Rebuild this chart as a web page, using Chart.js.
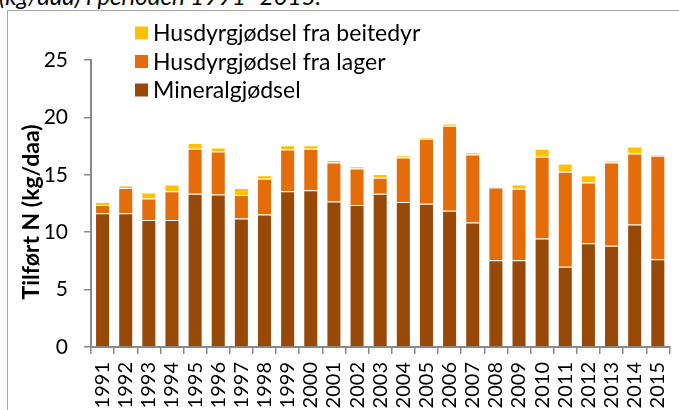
<!DOCTYPE html>
<html>
<head>
<meta charset="utf-8">
<script src="https://cdn.jsdelivr.net/npm/chart.js@4/dist/chart.umd.min.js"></script>
<style>
  html, body { margin: 0; padding: 0; background: #fff; overflow: hidden; width: 679px; height: 410px; }
  #caption { position: absolute; left: -1px; top: -16px; font-family: Lato, sans-serif; font-style: italic; font-size: 24px; line-height: 24px; color: #000; white-space: nowrap; }
  #frame { position: absolute; left: 7px; top: 10px; width: 700px; height: 420px; border: 1px solid #a9a9a9; }
  #wrap { position: absolute; left: 0; top: 0; }
</style>
</head>
<body>
<div id="caption">(kg/daa) i perioden 1991–2015.</div>
<div id="frame"></div>
<div id="wrap"><canvas id="chartN" width="690" height="440"></canvas></div>
<script>
// Tilført nitrogen per år, kg/daa
var years = ['1991', '1992', '1993', '1994', '1995', '1996', '1997', '1998', '1999', '2000',
             '2001', '2002', '2003', '2004', '2005', '2006', '2007', '2008', '2009', '2010',
             '2011', '2012', '2013', '2014', '2015'];

var mineral = [11.66, 11.66, 11.07, 11.07, 13.34, 13.29, 11.19, 11.54, 13.57, 13.66,
               12.67, 12.38, 13.34, 12.64, 12.47, 11.86, 10.85, 7.56, 7.56, 9.45,
               6.98, 9.04, 8.81, 10.67, 7.65];

var lager = [0.72, 2.20, 1.87, 2.50, 3.93, 3.74, 2.06, 3.11, 3.64, 3.61,
             3.40, 3.17, 1.40, 3.87, 5.67, 7.41, 5.92, 6.34, 6.22, 7.12,
             8.28, 5.29, 7.27, 6.19, 9.00];

var beite = [0.26, 0.21, 0.52, 0.59, 0.49, 0.35, 0.59, 0.32, 0.37, 0.31,
             0.21, 0.20, 0.32, 0.20, 0.14, 0.20, 0.20, 0.08, 0.38, 0.70,
             0.73, 0.64, 0.17, 0.61, 0.12];

var yTicks = [0, 5, 10, 15, 20, 25];
var yTitle = 'Tilført N (kg/daa)';

var axisGrey = '#898989';
var font = 'Lato, "Open Sans", sans-serif';

// legend inside the plot and axis title, placed like the Excel original
var excelBits = {
    id: 'excelBits',
    afterDraw: function (chart) {
        var ctx = chart.ctx;
        var sets = chart.data.datasets.slice().reverse();
        ctx.save();
        ctx.font = '23px ' + font;
        ctx.textBaseline = 'middle';
        ctx.textAlign = 'left';
        sets.forEach(function (ds, i) {
            var y = 33 + i * 28.5;
            ctx.fillStyle = ds.backgroundColor;
            ctx.fillRect(135, y - 6.5, 13, 13);
            ctx.fillStyle = '#000';
            ctx.fillText(ds.label, 153, y + 1);
        });

        ctx.translate(32, 212);
        ctx.rotate(-Math.PI / 2);
        ctx.textAlign = 'center';
        ctx.font = 'bold 23px ' + font;
        ctx.fillText(yTitle, 0, 0);
        ctx.restore();
    }
};

var chartN = new Chart(document.getElementById('chartN'), {
    type: 'bar',
    data: {
        labels: years,
        datasets: [{
            label: 'Mineralgjødsel',
            data: mineral,
            backgroundColor: '#984807',
            borderColor: 'rgba(255,255,255,0.3)',
            borderWidth: 1
        }, {
            label: 'Husdyrgjødsel fra lager',
            data: lager,
            backgroundColor: '#E46C0A',
            borderColor: 'rgba(255,255,255,0.3)',
            borderWidth: 1
        }, {
            label: 'Husdyrgjødsel fra beitedyr',
            data: beite,
            backgroundColor: '#FFC000',
            borderColor: 'rgba(255,255,255,0.3)',
            borderWidth: 1
        }]
    },
    options: {
        responsive: false,
        animation: false,
        devicePixelRatio: 1,
        layout: { padding: { left: 0, top: 60, right: 9, bottom: 0 } },
        datasets: { bar: { barPercentage: 0.65, categoryPercentage: 1 } },
        plugins: {
            legend: { display: false },
            tooltip: { enabled: false }
        },
        scales: {
            x: {
                stacked: true,
                offset: true,
                grid: { display: true, drawOnChartArea: false, offset: true, tickLength: 7, color: axisGrey, lineWidth: 1.5 },
                border: { color: axisGrey, width: 2 },
                ticks: { minRotation: 90, maxRotation: 90, padding: 8, autoSkip: false, color: '#000', font: { family: font, size: 20 } },
                afterFit: function (scale) { scale.height = 93; }
            },
            y: {
                stacked: true,
                min: 0,
                max: 25,
                afterBuildTicks: function (scale) {
                    scale.ticks = yTicks.map(function (v) { return { value: v }; });
                },
                grid: { display: true, drawOnChartArea: false, tickLength: 7, color: axisGrey, lineWidth: 1.5 },
                border: { color: axisGrey, width: 2 },
                ticks: { padding: 16, color: '#000', font: { family: font, size: 21 } },
                afterFit: function (scale) { scale.width = 91; }
            }
        }
    },
    plugins: [excelBits]
});
</script>
</body>
</html>
